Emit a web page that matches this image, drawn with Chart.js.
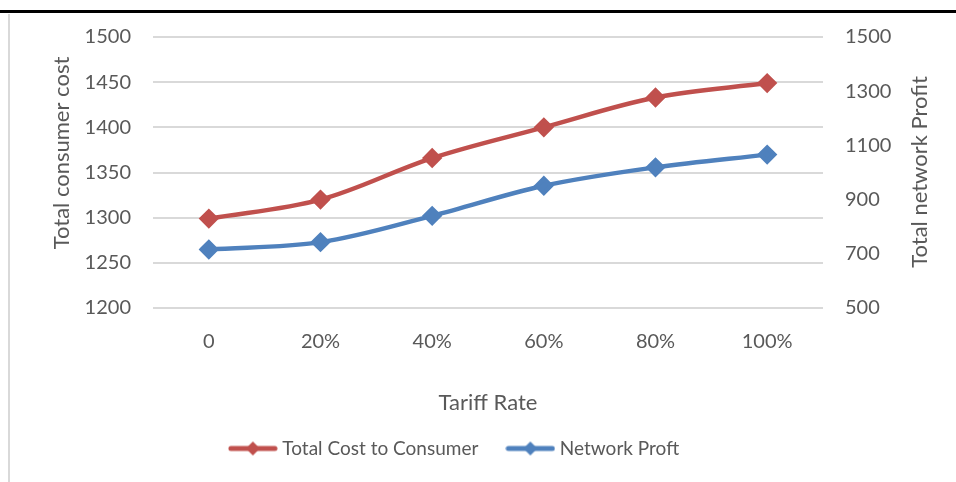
<!DOCTYPE html>
<html>
<head>
<meta charset="utf-8">
<script src="https://cdn.jsdelivr.net/npm/chart.js@4.4.1/dist/chart.umd.min.js"></script>
<style>
  body { margin: 0; background: #fff; }
  #wrap { position: relative; width: 956px; height: 482px; overflow: hidden; }
  #topline { position: absolute; left: 0; top: 10px; width: 956px; height: 3px; background: #000; }
  #leftline { position: absolute; left: 8px; top: 14px; bottom: 0; width: 2px; background: #d9d9d9; }
  canvas { position: absolute; left: 0; top: 0; }
</style>
</head>
<body>
<div id="wrap">
  <canvas id="tariffChart" width="956" height="482"></canvas>
  <div id="topline"></div>
  <div id="leftline"></div>
</div>
<script>
var tariffRates = ["0", "20%", "40%", "60%", "80%", "100%"];
var consumerCost = [1299, 1320, 1366, 1400, 1433, 1449];
var networkProfit = [716, 743, 840, 951, 1019, 1066];

var red = "#C0504D";
var blue = "#4F81BD";
var textColor = "#595959";
var font = "Lato, 'Open Sans', sans-serif";

// legend icon: line with a diamond, like the spreadsheet legend
function legendIcon(color) {
    var c = document.createElement("canvas");
    c.width = 50;
    c.height = 16;
    var g = c.getContext("2d");
    g.strokeStyle = color;
    g.lineWidth = 5;
    g.lineCap = "round";
    g.beginPath();
    g.moveTo(3, 8);
    g.lineTo(47, 8);
    g.stroke();
    g.fillStyle = color;
    g.beginPath();
    g.moveTo(25, 1);
    g.lineTo(32, 8);
    g.lineTo(25, 15);
    g.lineTo(18, 8);
    g.closePath();
    g.fill();
    return c;
}
var icons = [legendIcon(red), legendIcon(blue)];

// both axis titles read bottom-to-top, so draw them by hand
var axisTitles = {
    id: 'axisTitles',
    afterLayout: function (chart) {
        // legend sits a bit left of centre in the original
        chart.legend.left -= 22;
        chart.legend.right -= 22;
    },
    afterDraw: function (chart) {
        var c = chart.ctx;
        var area = chart.chartArea;
        c.save();
        c.fillStyle = textColor;
        c.font = "22px " + font;
        c.textAlign = "center";
        c.textBaseline = "middle";
        c.save();
        c.translate(area.left - 91, area.top + 116);
        c.rotate(-Math.PI / 2);
        c.fillText("Total consumer cost", 0, 0);
        c.restore();
        c.save();
        c.translate(area.right + 97, area.top + 135);
        c.rotate(-Math.PI / 2);
        c.fillText("Total network Profit", 0, 0);
        c.restore();
        c.restore();
    }
};

function plain(v) { return String(v); }

var ctx = document.getElementById("tariffChart");
var myChart = new Chart(ctx, {
    type: 'line',
    data: {
        labels: tariffRates,
        datasets: [{
            label: "Total Cost to Consumer",
            data: consumerCost,
            borderColor: red,
            backgroundColor: red,
            borderWidth: 4.5,
            pointStyle: 'rectRot',
            pointRadius: 7,
            pointHoverRadius: 7,
            tension: 0.35,
            yAxisID: 'y'
        }, {
            label: "Network Proft",
            data: networkProfit,
            borderColor: blue,
            backgroundColor: blue,
            borderWidth: 4.5,
            pointStyle: 'rectRot',
            pointRadius: 7,
            pointHoverRadius: 7,
            tension: 0.35,
            yAxisID: 'y1'
        }]
    },
    options: {
        responsive: false,
        animation: false,
        layout: { padding: { top: 37, bottom: 14 } },
        plugins: {
            tooltip: { enabled: false },
            legend: {
                position: 'bottom',
                labels: {
                    color: textColor,
                    font: { family: font, size: 19 },
                    usePointStyle: true,
                    pointStyleWidth: 40,
                    padding: 32,
                    generateLabels: function (chart) {
                        return chart.data.datasets.map(function (ds, i) {
                            return {
                                text: ds.label,
                                pointStyle: icons[i],
                                fillStyle: ds.borderColor,
                                strokeStyle: ds.borderColor,
                                lineWidth: 0,
                                fontColor: textColor,
                                hidden: false,
                                datasetIndex: i
                            };
                        });
                    }
                }
            }
        },
        scales: {
            x: {
                offset: true,
                grid: { display: false, drawTicks: false },
                border: { display: false },
                ticks: { color: textColor, font: { family: font, size: 20 }, padding: 22 },
                title: {
                    display: true,
                    text: "Tariff Rate",
                    color: textColor,
                    font: { family: font, size: 22 },
                    padding: { top: 31, bottom: -9 }
                },
                afterFit: function (scale) { scale.height = 99; }
            },
            y: {
                position: 'left',
                min: 1200,
                max: 1500,
                ticks: { stepSize: 50, color: textColor, font: { family: font, size: 20 }, padding: 22, callback: plain },
                grid: { color: "#d9d9d9", lineWidth: 2, drawTicks: false },
                border: { display: false },
                afterFit: function (scale) { scale.width = 153; }
            },
            y1: {
                position: 'right',
                min: 500,
                max: 1500,
                ticks: { stepSize: 200, color: textColor, font: { family: font, size: 20 }, padding: 22, callback: plain },
                grid: { display: false, drawTicks: false },
                border: { display: false },
                afterFit: function (scale) { scale.width = 133; }
            }
        }
    },
    plugins: [axisTitles]
});
</script>
</body>
</html>
